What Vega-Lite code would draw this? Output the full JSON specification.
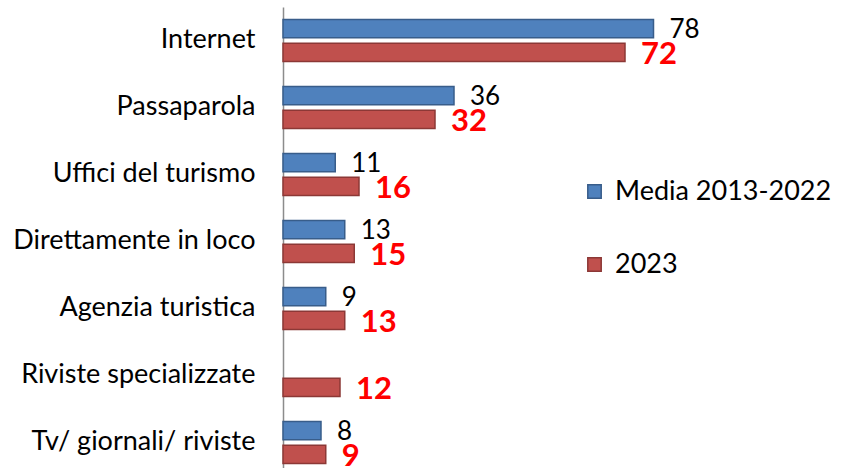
{
  "$schema": "https://vega.github.io/schema/vega-lite/v6.json",
  "width": 380,
  "height": 469,
  "autosize": {"type": "none"},
  "padding": {"left": 283, "top": 7, "right": 181, "bottom": 0},
  "background": "white",
  "config": {"view": {"stroke": null}, "font": "Lato"},
  "data": {"values": [
    {"categoria": "Internet", "serie": "Media 2013-2022", "valore": 78},
    {"categoria": "Internet", "serie": "2023", "valore": 72},
    {"categoria": "Passaparola", "serie": "Media 2013-2022", "valore": 36},
    {"categoria": "Passaparola", "serie": "2023", "valore": 32},
    {"categoria": "Uffici del turismo", "serie": "Media 2013-2022", "valore": 11},
    {"categoria": "Uffici del turismo", "serie": "2023", "valore": 16},
    {"categoria": "Direttamente in loco", "serie": "Media 2013-2022", "valore": 13},
    {"categoria": "Direttamente in loco", "serie": "2023", "valore": 15},
    {"categoria": "Agenzia turistica", "serie": "Media 2013-2022", "valore": 9},
    {"categoria": "Agenzia turistica", "serie": "2023", "valore": 13},
    {"categoria": "Riviste specializzate", "serie": "Media 2013-2022", "valore": null},
    {"categoria": "Riviste specializzate", "serie": "2023", "valore": 12},
    {"categoria": "Tv/ giornali/ riviste", "serie": "Media 2013-2022", "valore": 8},
    {"categoria": "Tv/ giornali/ riviste", "serie": "2023", "valore": 9}
  ]},
  "encoding": {
    "y": {
      "field": "categoria", "type": "nominal", "sort": null,
      "scale": {"paddingInner": 0.34, "paddingOuter": 0.17},
      "axis": {"title": null, "ticks": false, "domainColor": "#8c8c8c", "domainWidth": 1.5,
               "labelFontSize": 27, "labelColor": "#000000", "labelPadding": 28, "labelLimit": 300, "labelOffset": -1}
    },
    "yOffset": {"field": "serie", "type": "nominal", "sort": ["Media 2013-2022", "2023"],
                "scale": {"paddingInner": 0.24, "paddingOuter": 0.05}},
    "x": {"field": "valore", "type": "quantitative", "scale": {"domain": [0, 80]}, "axis": null}
  },
  "layer": [
    {
      "mark": {"type": "bar", "strokeWidth": 1.5},
      "encoding": {
        "color": {
          "field": "serie", "type": "nominal", "sort": ["Media 2013-2022", "2023"],
          "scale": {"domain": ["Media 2013-2022", "2023"], "range": ["#4F81BD", "#C0504D"]},
          "legend": {"title": null, "orient": "none", "legendX": 298, "legendY": 171,
                     "symbolType": "square", "symbolSize": 180, "symbolStrokeWidth": 1.5,
                     "labelFontSize": 27, "labelColor": "#000000", "rowPadding": 45,
                     "labelOffset": 7, "labelLimit": 400, "symbolOpacity": 1}
        },
        "stroke": {
          "field": "serie", "type": "nominal",
          "scale": {"domain": ["Media 2013-2022", "2023"], "range": ["#385D8A", "#8C3836"]},
          "legend": null
        }
      }
    },
    {
      "transform": [{"filter": "datum.serie == 'Media 2013-2022' && datum.valore != null"}],
      "mark": {"type": "text", "align": "left", "dx": 16, "dy": 1, "fontSize": 26, "color": "#000000"},
      "encoding": {"text": {"field": "valore", "type": "quantitative"}}
    },
    {
      "transform": [{"filter": "datum.serie == '2023'"}],
      "mark": {"type": "text", "align": "left", "dx": 16, "dy": 3, "fontSize": 31, "fontWeight": "bold", "color": "#FF0000"},
      "encoding": {"text": {"field": "valore", "type": "quantitative"}}
    }
  ]
}
